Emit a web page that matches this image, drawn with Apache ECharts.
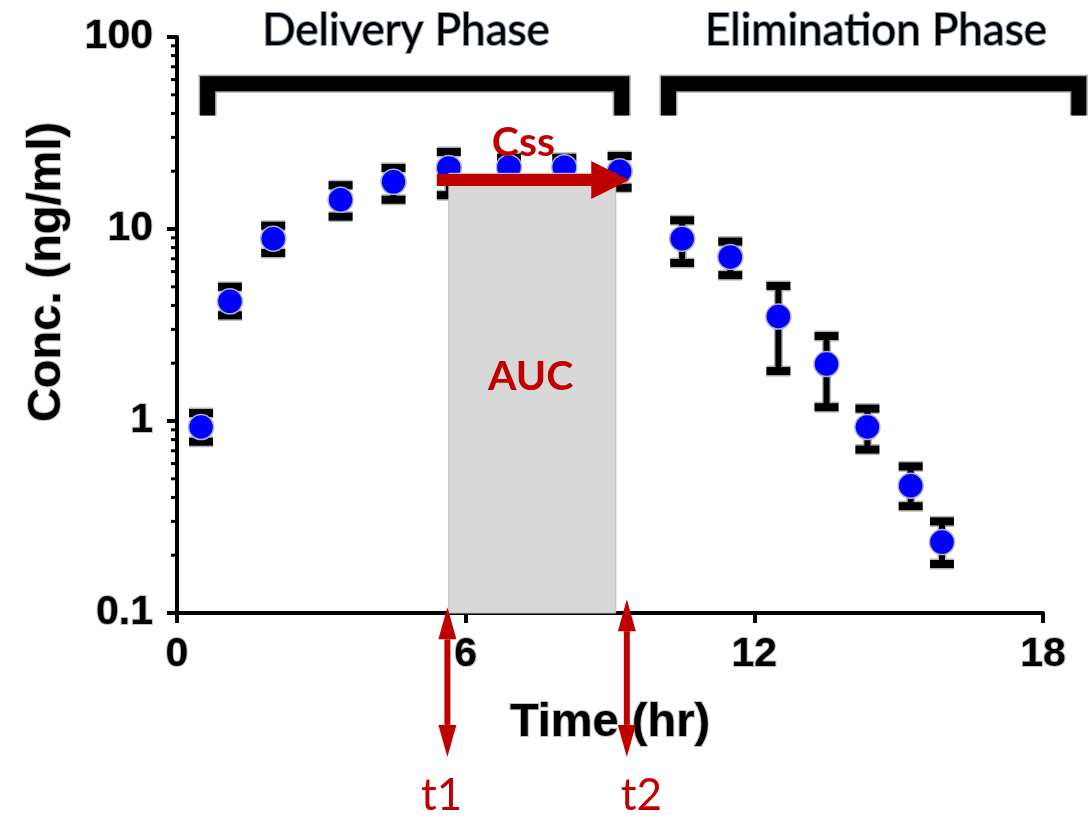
<!DOCTYPE html>
<html><head><meta charset="utf-8">
<script src="https://cdn.jsdelivr.net/npm/echarts@6/dist/echarts.min.js"></script>
<style>html,body{margin:0;padding:0;background:#fff}#c{width:1091px;height:819px}</style>
</head><body><div id="c"></div>
<script>
// ---- data ----
const timeHr     = [0.5, 1.1, 2.0, 3.4, 4.5, 5.65, 6.9, 8.05, 9.2, 10.5, 11.5, 12.5, 13.5, 14.35, 15.25, 15.9];
const concMean   = [0.93, 4.2, 8.9, 14.2, 17.6, 20.8, 21.0, 21.0, 20.0, 8.9, 7.15, 3.5, 1.98, 0.93, 0.46, 0.234];
const concUpper  = [1.10, 5.0, 10.4, 16.9, 20.8, 25.2, 23.5, 23.5, 24.0, 11.1, 8.6, 5.05, 2.77, 1.16, 0.58, 0.30];
const concLower  = [0.78, 3.55, 7.5, 11.6, 14.2, 15.0, 18.6, 18.6, 16.4, 6.65, 5.75, 1.82, 1.18, 0.71, 0.36, 0.18];
const xTickLabels = ['0', '6', '12', '18'];
const yTickLabels = ['0.1', '1', '10', '100'];
const yMinorTicks = [0.2,0.3,0.4,0.5,0.6,0.7,0.8,0.9,2,3,4,5,6,7,8,9,20,30,40,50,60,70,80,90];
// annotations (data space)
const phaseNames = ['Delivery Phase', 'Elimination Phase'];
const phaseFrom  = [0.48, 10.06];
const phaseTo    = [9.4, 18.9];
const phaseTitleX = [4.76, 14.53];
const phaseBarY = 57, phaseLegY = 39, phaseTitleY = 108;
const t1 = 5.65, t2 = 9.12, cssLevel = 19.5, cssArrowY = 18, cssArrowFrom = 5.4, cssArrowTo = 9.4;
const tArrowX = [5.62, 9.35], tArrowTop = [0.107, 0.118], tArrowBottom = 0.0178;
const tLabels = ['t1', 't2'], tLabelX = [5.5, 9.65], tLabelY = 0.0112;

const RED = '#C00000';
const chart = echarts.init(document.getElementById('c'), null, {renderer: 'canvas'});

const errData = timeHr.map((t, i) => [t, concLower[i], concUpper[i]]);
const ptData = timeHr.map((t, i) => [t, concMean[i]]);

function renderErr(params, api) {
  const x = api.value(0);
  const top = api.coord([x, api.value(2)]);
  const bot = api.coord([x, api.value(1)]);
  const hw = 12;
  const mk = (stroke, w, cw) => [
    {type: 'line', shape: {x1: top[0], y1: top[1], x2: bot[0], y2: bot[1]}, style: {stroke, lineWidth: w}},
    {type: 'line', shape: {x1: top[0] - hw, y1: top[1], x2: top[0] + hw, y2: top[1]}, style: {stroke, lineWidth: cw}},
    {type: 'line', shape: {x1: bot[0] - hw, y1: bot[1], x2: bot[0] + hw, y2: bot[1]}, style: {stroke, lineWidth: cw}}
  ];
  return {type: 'group', children: mk('#b5b5b5', 9, 11).concat(mk('#000', 6, 8))};
}

function renderMinor(params, api) {
  const p = api.coord([0, api.value(0)]);
  return {type: 'line', shape: {x1: p[0] - 6, y1: p[1], x2: p[0], y2: p[1]}, style: {stroke: '#000', lineWidth: 3}};
}

function renderRect(params, api) {
  const a = api.coord([t1, cssLevel]);
  const b = api.coord([t2, 0.1]);
  return {type: 'rect', shape: {x: a[0], y: a[1], width: b[0] - a[0], height: b[1] - a[1]},
    style: {fill: '#d8d8d8', stroke: '#bdbdbd', lineWidth: 1}};
}

function vArrow(x, yTop, yBot) {
  const hw = 9, hl = 32, sw = 3;
  return [
    {type: 'polygon', shape: {points: [[x - sw, yTop + hl], [x + sw, yTop + hl], [x + sw, yBot - hl], [x - sw, yBot - hl]]}, style: {fill: RED}},
    {type: 'polygon', shape: {points: [[x, yTop], [x + hw, yTop + hl], [x - hw, yTop + hl]]}, style: {fill: RED}},
    {type: 'polygon', shape: {points: [[x, yBot], [x + hw, yBot - hl], [x - hw, yBot - hl]]}, style: {fill: RED}}
  ];
}

function renderAnno(params, api) {
  const ch = [];
  for (let i = 0; i < phaseNames.length; i++) {
    const a = api.coord([phaseFrom[i], phaseBarY]);
    const b = api.coord([phaseTo[i], phaseBarY]);
    const leg = api.coord([phaseFrom[i], phaseLegY])[1];
    const h = 7.5;
    const pts = [[a[0] + h, leg], [a[0] + h, a[1]], [b[0] - h, a[1]], [b[0] - h, leg]];
    ch.push({type: 'polyline', shape: {points: pts}, style: {stroke: '#a9a9a9', lineWidth: 18, lineJoin: 'miter', fill: null}});
    ch.push({type: 'polyline', shape: {points: pts}, style: {stroke: '#000', lineWidth: 15, lineJoin: 'miter', fill: null}});
    const tp = api.coord([phaseTitleX[i], phaseTitleY]);
    ch.push({type: 'text', x: tp[0], y: tp[1], style: {text: phaseNames[i], fill: '#000', font: '44px Lato',
      align: 'center', verticalAlign: 'middle', stroke: '#8f98ac', lineWidth: 2}});
  }
  const s = api.coord([cssArrowFrom, cssArrowY]);
  const e = api.coord([cssArrowTo, cssArrowY]);
  const sh = 6, hh = 19, hl = 38;
  ch.push({type: 'polygon', shape: {points: [[s[0], s[1] - sh], [e[0] - hl, s[1] - sh], [e[0] - hl, s[1] - hh], [e[0], s[1]],
    [e[0] - hl, s[1] + hh], [e[0] - hl, s[1] + sh], [s[0], s[1] + sh]]}, style: {fill: RED}});
  const cp = api.coord([7.2, 28]);
  ch.push({type: 'text', x: cp[0], y: cp[1], style: {text: 'Css', fill: RED, font: 'bold 41px Lato', align: 'center', verticalAlign: 'middle'}});
  const ap = api.coord([7.35, 1.69]);
  ch.push({type: 'text', x: ap[0], y: ap[1], style: {text: 'AUC', fill: RED, font: 'bold 41px Lato', align: 'center', verticalAlign: 'middle'}});
  for (let i = 0; i < 2; i++) {
    const top = api.coord([tArrowX[i], tArrowTop[i]]);
    const bot = api.coord([tArrowX[i], tArrowBottom]);
    vArrow(top[0], top[1], bot[1]).forEach(el => ch.push(el));
    const lp = api.coord([tLabelX[i], tLabelY]);
    ch.push({type: 'text', x: lp[0], y: lp[1], style: {text: tLabels[i], fill: RED, font: '44px Lato', align: 'center', verticalAlign: 'middle'}});
  }
  return {type: 'group', children: ch};
}

const tickLabelStyle = {fontFamily: 'Liberation Sans', fontWeight: 'bold', fontSize: 41, color: '#000',
  textBorderColor: 'rgba(150,150,150,0.6)', textBorderWidth: 2};
const nameStyle = {fontFamily: 'Liberation Sans', fontWeight: 'bold', fontSize: 47, color: '#000',
  textBorderColor: 'rgba(150,150,150,0.6)', textBorderWidth: 2};

chart.setOption({
  animation: false,
  backgroundColor: '#fff',
  grid: {left: 177, right: 48, top: 37, bottom: 206, containLabel: false},
  xAxis: {
    type: 'value', min: 0, max: 18, interval: 6,
    name: 'Time (hr)', nameLocation: 'middle', nameGap: 87, nameTextStyle: nameStyle,
    axisLine: {show: true, lineStyle: {color: '#000', width: 4}},
    axisTick: {show: true, length: 10, lineStyle: {color: '#000', width: 4}},
    axisLabel: Object.assign({margin: 21, formatter: v => xTickLabels[[0, 6, 12, 18].indexOf(v)] ?? ''}, tickLabelStyle),
    splitLine: {show: false}
  },
  yAxis: {
    type: 'log', logBase: 10, min: 0.1, max: 100,
    name: 'Conc. (ng/ml)', nameLocation: 'middle', nameGap: 106, nameRotate: 90,
    nameTextStyle: Object.assign({padding: [0, 0, 0, 106]}, nameStyle),
    axisLine: {show: true, lineStyle: {color: '#000', width: 4}},
    axisTick: {show: true, length: 10, lineStyle: {color: '#000', width: 4}},
    axisLabel: Object.assign({margin: 24, formatter: v => {
      const k = [0.1, 1, 10, 100].findIndex(t => Math.abs(t - v) < 1e-9 * Math.max(1, v));
      return k >= 0 ? yTickLabels[k] : '';
    }}, tickLabelStyle),
    splitLine: {show: false}
  },
  series: [
    {type: 'custom', name: 'minor', data: yMinorTicks.map(v => [v]), renderItem: renderMinor, clip: false, z: 1, silent: true,
      encode: {y: 0}},
    {type: 'custom', name: 'err', data: errData, renderItem: renderErr, z: 2, clip: false, encode: {x: 0, y: [1, 2]}},
    {type: 'scatter', name: 'mean', data: ptData, symbol: 'circle', symbolSize: 25, z: 3,
      itemStyle: {color: '#0000ff', borderColor: '#b0b0d0', borderWidth: 1.5, opacity: 1}},
    {type: 'custom', name: 'auc', data: [[t1, cssLevel]], renderItem: renderRect, z: 4, clip: false, silent: true},
    {type: 'custom', name: 'anno', data: [[t1, cssLevel]], renderItem: renderAnno, z: 5, clip: false, silent: true}
  ]
});
</script>
</body></html>
